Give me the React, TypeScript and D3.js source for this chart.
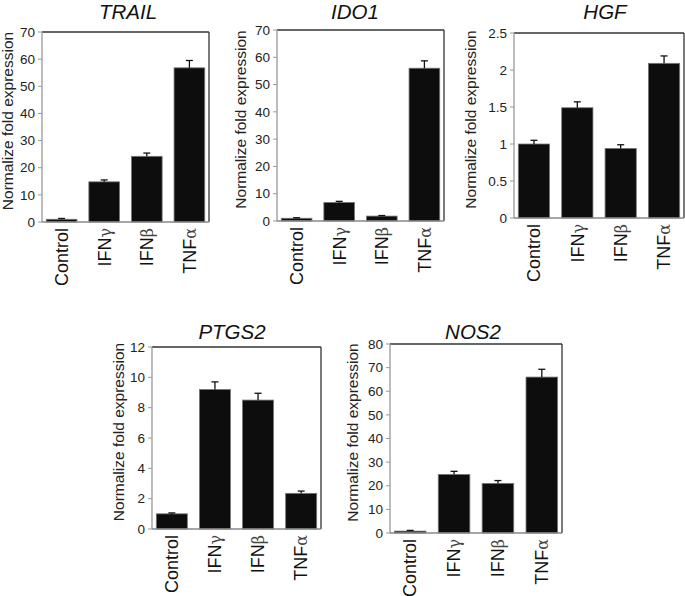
import React from "react";
import * as d3 from "d3";

const categories = ["Control", "IFN|γ", "IFN|β", "TNF|α"];

const trailValues = [1.0, 14.8, 24.2, 56.8];
const trailErrors = [0.3, 0.7, 1.2, 2.7];
const trailTicks = [0, 10, 20, 30, 40, 50, 60, 70];

const ido1Values = [1.0, 6.8, 1.8, 56.0];
const ido1Errors = [0.2, 0.4, 0.2, 2.7];
const ido1Ticks = [0, 10, 20, 30, 40, 50, 60, 70];

const hgfValues = [1.0, 1.49, 0.94, 2.09];
const hgfErrors = [0.05, 0.08, 0.05, 0.1];
const hgfTicks = [0, 0.5, 1, 1.5, 2, 2.5];

const ptgs2Values = [1.0, 9.2, 8.5, 2.35];
const ptgs2Errors = [0.06, 0.5, 0.45, 0.15];
const ptgs2Ticks = [0, 2, 4, 6, 8, 10, 12];

const nos2Values = [0.8, 24.8, 21.0, 66.0];
const nos2Errors = [0.3, 1.3, 1.2, 3.3];
const nos2Ticks = [0, 10, 20, 30, 40, 50, 60, 70, 80];

const titles = ["TRAIL", "IDO1", "HGF", "PTGS2", "NOS2"];
const yTitle = "Normalize fold expression";

const panels = [
  { title: titles[0], values: trailValues, errors: trailErrors, ticks: trailTicks, left: 42, right: 209, top: 32, bottom: 222, titleX: 128, titleY: 19, yTitleX: 13 },
  { title: titles[1], values: ido1Values, errors: ido1Errors, ticks: ido1Ticks, left: 277, right: 444, top: 30, bottom: 221, titleX: 355, titleY: 19, yTitleX: 246 },
  { title: titles[2], values: hgfValues, errors: hgfErrors, ticks: hgfTicks, left: 514, right: 684, top: 33, bottom: 218, titleX: 605, titleY: 19, yTitleX: 476 },
  { title: titles[3], values: ptgs2Values, errors: ptgs2Errors, ticks: ptgs2Ticks, left: 152, right: 321, top: 347, bottom: 529, titleX: 232, titleY: 339, yTitleX: 124 },
  { title: titles[4], values: nos2Values, errors: nos2Errors, ticks: nos2Ticks, left: 390, right: 562, top: 344, bottom: 533, titleX: 473, titleY: 339, yTitleX: 358 },
];

const FONT = "'Liberation Sans', Arial, sans-serif";

function Panel({ p }: { p: typeof panels[number] }) {
  const x = d3
    .scaleBand<string>()
    .domain(categories)
    .range([p.left, p.right])
    .paddingInner(0.28)
    .paddingOuter(0.1);
  const maxT = p.ticks[p.ticks.length - 1];
  const y = d3.scaleLinear().domain([0, maxT]).range([p.bottom, p.top]);
  const fmt = (v: number) => String(v);
  return (
    <g>
      <text x={p.titleX} y={p.titleY} textAnchor="middle" fontStyle="italic" fontSize={20.5} fontFamily={FONT} fill="#111">
        {p.title}
      </text>
      <text
        transform={`translate(${p.yTitleX},${(p.top + p.bottom) / 2 - 6}) rotate(-90)`}
        textAnchor="middle"
        fontSize={15.5}
        fontFamily={FONT}
        fill="#222"
      >
        {yTitle}
      </text>
      <line x1={p.left} x2={p.right} y1={p.top} y2={p.top} stroke="#333" strokeWidth={1.3} />
      <line x1={p.right} x2={p.right} y1={p.top} y2={p.bottom} stroke="#333" strokeWidth={1.3} />
      {categories.map((c, i) => {
        const bx = x(c)!;
        const bw = x.bandwidth();
        const v = p.values[i];
        const e = p.errors[i];
        const cx = bx + bw / 2;
        return (
          <g key={c}>
            <rect x={bx} y={y(v)} width={bw} height={p.bottom - y(v)} fill="#0d0d0d" stroke="#777" strokeWidth={0.8} />
            <line x1={cx} x2={cx} y1={y(v)} y2={y(v + e)} stroke="#111" strokeWidth={1.3} />
            <line x1={cx - 3.5} x2={cx + 3.5} y1={y(v + e)} y2={y(v + e)} stroke="#111" strokeWidth={1.3} />
          </g>
        );
      })}
      <line x1={p.left} x2={p.left} y1={p.top} y2={p.bottom} stroke="#999" strokeWidth={1.3} />
      <line x1={p.left} x2={p.right} y1={p.bottom} y2={p.bottom} stroke="#888" strokeWidth={1.3} />
      {p.ticks.map((t) => (
        <g key={t}>
          <line x1={p.left - 4} x2={p.left} y1={y(t)} y2={y(t)} stroke="#999" strokeWidth={1} />
          <text x={p.left - 7} y={y(t)} dy="0.35em" textAnchor="end" fontSize={13.5} fontFamily={FONT} fill="#222">
            {fmt(t)}
          </text>
        </g>
      ))}
      {categories.map((c) => {
        const cx = x(c)! + x.bandwidth() / 2;
        const [main, greek] = c.split("|");
        return (
          <text
            key={c}
            transform={`translate(${cx},${p.bottom + 6}) rotate(-90)`}
            textAnchor="end"
            dy="0.35em"
            fontSize={18}
            fontFamily={FONT}
            fill="#111"
          >
            {main}
            {greek ? <tspan fill="#444" fontFamily="'DejaVu Serif', serif" fontSize={16}>{greek}</tspan> : null}
          </text>
        );
      })}
    </g>
  );
}

export default function App() {
  return (
    <svg width={685} height={596} style={{ position: "absolute", left: 0, top: 0, background: "#fff" }}>
      <rect width={685} height={596} fill="#fff" />
      {panels.map((p) => (
        <Panel key={p.title} p={p} />
      ))}
    </svg>
  );
}
